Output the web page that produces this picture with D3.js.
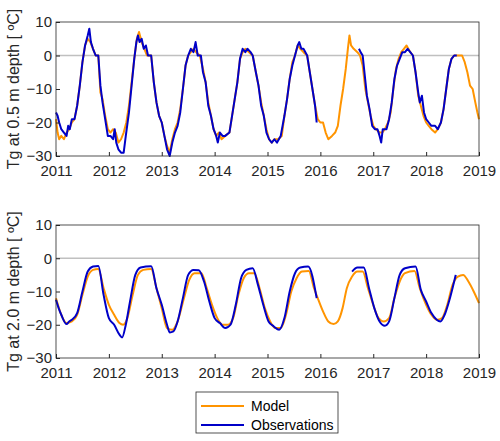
<!DOCTYPE html>
<html><head><meta charset="utf-8">
<script src="https://cdn.jsdelivr.net/npm/d3@7"></script>
<style>body{margin:0;background:#fff}text{font-family:"Liberation Sans",Arial,sans-serif}</style>
</head><body><div id="chart"></div>
<script>
// top panel: 0.5 m depth, [decimal year, value]
const modelTop = [[2011.0,-19],[2011.03,-23],[2011.06,-25],[2011.1,-24],[2011.15,-25],[2011.2,-23],[2011.25,-22],[2011.3,-20],[2011.35,-19],[2011.4,-15],[2011.45,-9],[2011.5,-2],[2011.55,3],[2011.6,5],[2011.65,4],[2011.7,2],[2011.75,0],[2011.8,0],[2011.84,-11],[2011.88,-13],[2011.93,-18],[2011.98,-22],[2012.03,-23],[2012.08,-22],[2012.13,-23],[2012.18,-26],[2012.23,-25],[2012.28,-23],[2012.33,-20],[2012.38,-15],[2012.43,-8],[2012.48,-1],[2012.53,5],[2012.57,7],[2012.62,4],[2012.67,2],[2012.72,0],[2012.8,0],[2012.85,-8],[2012.9,-14],[2012.95,-18],[2013.0,-20],[2013.05,-24],[2013.1,-27],[2013.15,-29],[2013.2,-25],[2013.25,-22],[2013.3,-20],[2013.35,-16],[2013.4,-10],[2013.45,-3],[2013.5,0],[2013.55,1],[2013.6,2],[2013.65,1],[2013.72,0],[2013.78,-4],[2013.83,-8],[2013.88,-14],[2013.93,-18],[2013.98,-22],[2014.03,-24],[2014.08,-23],[2014.13,-25],[2014.2,-24],[2014.28,-23],[2014.33,-18],[2014.38,-13],[2014.43,-8],[2014.48,-1],[2014.53,1],[2014.58,2],[2014.65,1],[2014.72,0],[2014.78,-5],[2014.83,-9],[2014.88,-14],[2014.93,-18],[2014.98,-22],[2015.03,-25],[2015.08,-26],[2015.13,-25],[2015.2,-25],[2015.27,-24],[2015.32,-18],[2015.37,-13],[2015.42,-7],[2015.47,-2],[2015.52,0],[2015.57,3],[2015.62,2],[2015.68,1],[2015.75,0],[2015.8,-5],[2015.85,-10],[2015.9,-15],[2015.95,-19],[2016.0,-20],[2016.05,-20],[2016.1,-23],[2016.15,-25],[2016.22,-24],[2016.28,-23],[2016.33,-21],[2016.38,-15],[2016.43,-10],[2016.48,-4],[2016.52,2],[2016.55,6],[2016.58,3],[2016.63,2],[2016.7,1],[2016.75,0],[2016.8,-3],[2016.85,-10],[2016.9,-14],[2016.95,-18],[2017.0,-21],[2017.05,-22],[2017.12,-23],[2017.17,-23],[2017.22,-22],[2017.28,-20],[2017.33,-17],[2017.38,-10],[2017.43,-4],[2017.48,-1],[2017.53,1],[2017.58,2],[2017.63,3],[2017.7,1],[2017.75,0],[2017.8,-5],[2017.85,-12],[2017.9,-15],[2017.95,-18],[2018.0,-20],[2018.05,-21],[2018.1,-22],[2018.17,-23],[2018.22,-22],[2018.28,-20],[2018.33,-16],[2018.38,-10],[2018.43,-4],[2018.48,-1],[2018.53,0],[2018.6,0],[2018.68,0],[2018.73,-2],[2018.78,-5],[2018.83,-9],[2018.88,-10],[2018.93,-14],[2018.97,-17],[2019.0,-19]];
const obsTop = [[2011.0,-17],[2011.03,-18],[2011.06,-20],[2011.1,-22],[2011.15,-23],[2011.2,-24],[2011.23,-21],[2011.26,-22],[2011.3,-19],[2011.35,-19],[2011.4,-15],[2011.45,-9],[2011.5,-2],[2011.55,3],[2011.6,6],[2011.63,8],[2011.66,4],[2011.7,2],[2011.75,0],[2011.8,0],[2011.84,-9],[2011.88,-14],[2011.93,-19],[2011.98,-24],[2012.03,-24],[2012.08,-25],[2012.11,-22],[2012.14,-26],[2012.18,-28],[2012.23,-29],[2012.28,-29],[2012.32,-24],[2012.38,-17],[2012.43,-9],[2012.48,-1],[2012.52,4],[2012.55,6],[2012.58,4],[2012.62,5],[2012.66,2],[2012.7,3],[2012.74,0],[2012.8,0],[2012.85,-8],[2012.9,-14],[2012.95,-18],[2013.0,-20],[2013.05,-24],[2013.1,-28],[2013.15,-30],[2013.2,-26],[2013.25,-23],[2013.3,-21],[2013.35,-17],[2013.4,-10],[2013.45,-3],[2013.5,0],[2013.55,2],[2013.6,1],[2013.64,4],[2013.68,0],[2013.74,0],[2013.78,-5],[2013.83,-8],[2013.88,-15],[2013.93,-18],[2013.98,-22],[2014.03,-24],[2014.06,-26],[2014.1,-23],[2014.15,-24],[2014.2,-24],[2014.28,-23],[2014.33,-18],[2014.38,-13],[2014.43,-8],[2014.48,-1],[2014.53,2],[2014.58,1],[2014.62,2],[2014.68,1],[2014.72,0],[2014.78,-5],[2014.83,-9],[2014.88,-15],[2014.93,-18],[2014.98,-23],[2015.03,-25],[2015.08,-26],[2015.13,-25],[2015.18,-26],[2015.25,-24],[2015.32,-18],[2015.37,-13],[2015.42,-7],[2015.47,-3],[2015.52,0],[2015.57,3],[2015.6,4],[2015.64,2],[2015.68,2],[2015.75,0],[2015.8,-5],[2015.85,-10],[2015.9,-15],[2015.93,-20],[2015.94,null],[2016.72,null],[2016.73,2],[2016.76,1],[2016.8,0],[2016.84,-6],[2016.88,-12],[2016.93,-16],[2016.98,-21],[2017.03,-22],[2017.08,-22],[2017.12,-24],[2017.15,-26],[2017.18,-22],[2017.25,-22],[2017.3,-19],[2017.35,-14],[2017.4,-7],[2017.45,-3],[2017.5,-1],[2017.55,1],[2017.6,1],[2017.65,2],[2017.7,1],[2017.75,0],[2017.8,-5],[2017.85,-11],[2017.88,-14],[2017.92,-12],[2017.96,-17],[2018.0,-19],[2018.05,-20],[2018.1,-21],[2018.17,-21],[2018.22,-22],[2018.28,-20],[2018.33,-16],[2018.38,-10],[2018.43,-4],[2018.48,-1],[2018.53,0],[2018.58,0]];
// bottom panel: 2.0 m depth
const modelBot = [[2011.0,-12],[2011.1,-17],[2011.2,-19.5],[2011.3,-19],[2011.4,-17],[2011.5,-11],[2011.6,-5.5],[2011.7,-3.5],[2011.8,-3.2],[2011.9,-9],[2012.0,-14],[2012.1,-17],[2012.2,-19.5],[2012.27,-20],[2012.35,-18],[2012.45,-11],[2012.55,-5],[2012.65,-3.5],[2012.8,-3.2],[2012.9,-9],[2013.0,-15],[2013.1,-21],[2013.2,-21.5],[2013.3,-19],[2013.42,-12],[2013.52,-6.5],[2013.62,-4.5],[2013.75,-4.5],[2013.85,-9],[2013.95,-14],[2014.05,-18],[2014.15,-20],[2014.25,-20],[2014.35,-18],[2014.45,-11],[2014.55,-6],[2014.65,-4.5],[2014.75,-4.5],[2014.85,-9],[2014.95,-15],[2015.05,-19],[2015.15,-21],[2015.25,-21],[2015.35,-17],[2015.45,-10],[2015.55,-6],[2015.65,-4],[2015.78,-3.8],[2015.88,-9],[2015.95,-12],[2016.05,-16],[2016.15,-19],[2016.25,-19.8],[2016.33,-19],[2016.42,-15],[2016.5,-9],[2016.6,-5.5],[2016.7,-4],[2016.8,-4],[2016.9,-9],[2017.0,-14],[2017.1,-18],[2017.2,-19],[2017.3,-18],[2017.4,-12],[2017.5,-7],[2017.6,-4.5],[2017.78,-3.8],[2017.88,-9],[2018.0,-14],[2018.1,-17],[2018.2,-18.5],[2018.3,-18],[2018.4,-14],[2018.5,-8],[2018.6,-5.5],[2018.7,-5],[2018.8,-7],[2018.9,-10],[2019.0,-13.5]];
const obsBot = [[2011.0,-12.5],[2011.05,-15],[2011.1,-17],[2011.2,-19.8],[2011.25,-19],[2011.3,-18.5],[2011.4,-16.5],[2011.5,-10],[2011.6,-4],[2011.7,-2.5],[2011.8,-2.3],[2011.9,-11],[2012.0,-18],[2012.1,-20],[2012.2,-23],[2012.25,-23.8],[2012.32,-20],[2012.4,-13],[2012.5,-5],[2012.6,-2.8],[2012.8,-2.4],[2012.9,-9],[2013.0,-14],[2013.1,-20],[2013.15,-22.3],[2013.22,-22],[2013.3,-19],[2013.4,-12],[2013.5,-5],[2013.6,-3.5],[2013.7,-3.6],[2013.8,-7],[2013.9,-13],[2014.0,-18],[2014.1,-19.5],[2014.2,-21],[2014.3,-20],[2014.4,-14],[2014.5,-6],[2014.6,-3.5],[2014.72,-3],[2014.82,-8],[2014.92,-14],[2015.02,-19],[2015.12,-20.5],[2015.22,-21.5],[2015.32,-18],[2015.42,-10],[2015.52,-4.5],[2015.62,-2.8],[2015.77,-2.5],[2015.93,-12],[2015.94,null],[2016.58,null],[2016.6,-4],[2016.7,-2.8],[2016.82,-2.8],[2016.92,-9],[2017.02,-15],[2017.12,-19],[2017.22,-20.3],[2017.3,-19],[2017.4,-12],[2017.5,-5],[2017.6,-3],[2017.8,-2.5],[2017.9,-9.5],[2018.0,-13],[2018.1,-16.5],[2018.2,-18.5],[2018.27,-19],[2018.35,-17],[2018.45,-12],[2018.56,-5]];
const yTicks = [-30, -20, -10, 0, 10];
const xTicks = [2011, 2012, 2013, 2014, 2015, 2016, 2017, 2018, 2019];
const seriesNames = ['Model', 'Observations'];
const colors = ['#ff9400', '#0000c8'];

const W = 500, H = 441;
const svg = d3.select('#chart').append('svg').attr('width', W).attr('height', H);
const x = d3.scaleLinear().domain([2011, 2019]).range([56, 479]);

function panel(top, bottom, model, obs, label, curve) {
  const y = d3.scaleLinear().domain([-30, 10]).range([bottom, top]);
  const g = svg.append('g');
  g.append('line').attr('x1', x(2011)).attr('x2', x(2019)).attr('y1', y(0)).attr('y2', y(0))
    .attr('stroke', '#c0c0c0').attr('stroke-width', 1.5);
  const line = d3.line().defined(d => d[1] !== null).x(d => x(d[0])).y(d => y(d[1])).curve(curve);
  [model, obs].forEach((s, i) => g.append('path').datum(s).attr('d', line)
    .attr('fill', 'none').attr('stroke', colors[i]).attr('stroke-width', 2).attr('stroke-linejoin', 'round'));
  g.append('rect').attr('x', x(2011)).attr('y', top).attr('width', x(2019) - x(2011)).attr('height', bottom - top)
    .attr('fill', 'none').attr('stroke', '#262626').attr('stroke-width', 0.8);
  const ax = g.append('g').attr('transform', `translate(0,${bottom})`)
    .call(d3.axisBottom(x).tickValues(xTicks).tickFormat(d3.format('d')).tickSize(-4).tickPadding(9));
  const ay = g.append('g').attr('transform', `translate(${x(2011)},0)`)
    .call(d3.axisLeft(y).tickValues(yTicks).tickSize(-4).tickPadding(4));
  [ax, ay].forEach(a => {
    a.select('.domain').remove();
    a.selectAll('line').attr('stroke', '#262626');
    a.selectAll('text').attr('fill', '#262626').style('font-size', '15px');
  });
  g.append('text').attr('transform', `translate(19,${(top + bottom) / 2}) rotate(-90)`)
    .attr('text-anchor', 'middle').style('font-size', '16px').attr('fill', '#262626').text(label);
}

panel(22, 156, modelTop, obsTop, 'Tg at 0.5 m depth [ \u00baC]', d3.curveLinear);
panel(225, 358, modelBot, obsBot, 'Tg at 2.0 m depth [ \u00baC]', d3.curveMonotoneX);

const lg = svg.append('g');
lg.append('rect').attr('x', 196).attr('y', 392).attr('width', 142).attr('height', 41)
  .attr('fill', '#fff').attr('stroke', '#262626').attr('stroke-width', 0.8);
seriesNames.forEach((n, i) => {
  const yy = 406 + i * 19;
  lg.append('line').attr('x1', 201).attr('x2', 244).attr('y1', yy).attr('y2', yy)
    .attr('stroke', colors[i]).attr('stroke-width', 2);
  lg.append('text').attr('x', 251).attr('y', yy + 5).style('font-size', '14px').attr('fill', '#000').text(n);
});
</script></body></html>
